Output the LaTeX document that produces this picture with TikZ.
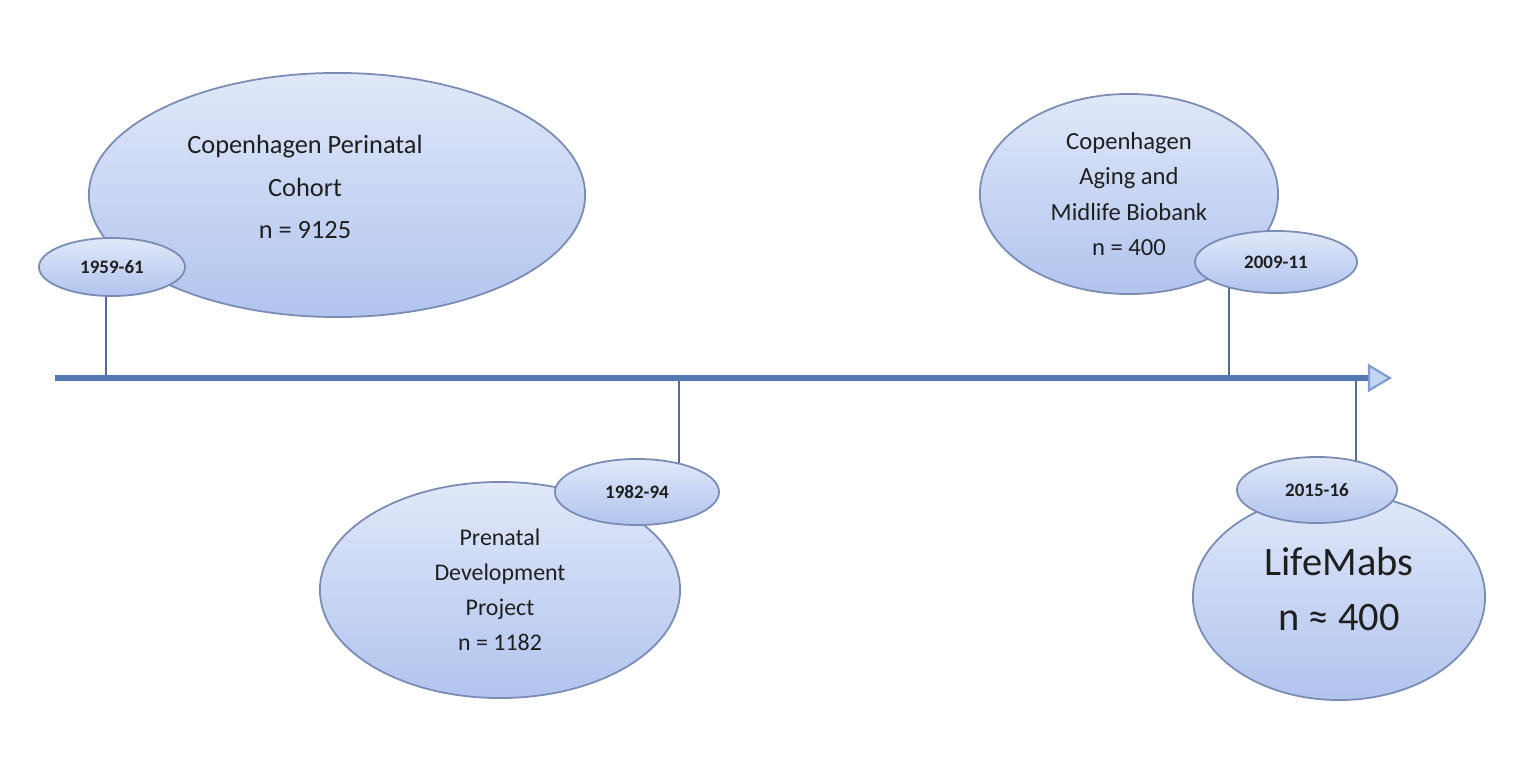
\documentclass[tikz,border=0pt]{standalone}
\usepackage{fontspec}
\setmainfont{Carlito}
\usepackage{tikz}
\usetikzlibrary{shapes.geometric, arrows.meta, calc, backgrounds}

\definecolor{axisblue}{HTML}{5478B4}
\definecolor{edgeblue}{HTML}{7A8BB4}
\definecolor{tickblue}{HTML}{566A98}
\definecolor{topblue}{HTML}{E0E8F9}
\definecolor{botblue}{HTML}{B1C4EE}
\definecolor{tipblue}{HTML}{C4D4F3}
\definecolor{tipedge}{HTML}{7F9CCC}

\begin{document}
\begin{tikzpicture}[
    x=0.01cm, y=-0.01cm,
    study/.style={ellipse, draw=edgeblue, line width=0.5pt, top color=topblue, bottom color=botblue, inner sep=0pt, align=center, text=black!88},
    year/.style={study, font=\fontsize{5.4}{6}\selectfont\bfseries},
    ticker/.style={draw=tickblue, line width=0.6pt},
    timeline/.style={draw=axisblue, line width=1.7pt, -{Triangle[length=0.24cm, width=0.28cm, line width=0.6pt, fill=tipblue, color=tipedge]}}
]
\useasboundingbox (0,0) rectangle (1526,770);

% axis
\coordinate (axisstart) at (55,378);
\coordinate (axisend) at (1392,378);

% studies
\node[study, minimum width=4.96cm, minimum height=2.44cm,
    label={[font=\fontsize{7.5}{12}\selectfont, align=center, text=black!88, xshift=-0.32cm, yshift=0.08cm]center:{Copenhagen Perinatal\\Cohort\\n = 9125}}]
    (cohort) at (337,195) {};
\node[study, minimum width=3.60cm, minimum height=2.16cm, font=\fontsize{6.8}{10}\selectfont] (prenatal) at (500,590)
    {Prenatal\\Development\\Project\\n = 1182};
\node[study, minimum width=2.98cm, minimum height=2.00cm, font=\fontsize{7}{10}\selectfont] (biobank) at (1129,194)
    {Copenhagen\\Aging and\\Midlife Biobank\\n = 400};
\node[study, minimum width=2.92cm, minimum height=2.06cm,
    label={[font=\fontsize{11.5}{15.5}\selectfont, align=center, text=black!88, yshift=0.08cm]center:{LifeMabs\\n ≈ 400}}]
    (lifemabs) at (1339,597) {};

% years
\node[year, minimum width=1.46cm, minimum height=0.58cm] (y1959) at (112,267) {1959-61};
\node[year, minimum width=1.64cm, minimum height=0.66cm] (y1982) at (637,492) {1982-94};
\node[year, minimum width=1.62cm, minimum height=0.62cm] (y2009) at (1276,262) {2009-11};
\node[year, minimum width=1.60cm, minimum height=0.66cm] (y2015) at (1317,490) {2015-16};

% ticks
\coordinate (t1959) at ($(y1959.center)+(-6,0)$);
\coordinate (t1982) at ($(y1982.center)+(42,0)$);
\coordinate (t2009) at ($(y2009.center)+(-47,0)$);
\coordinate (t2015) at ($(y2015.center)+(39,0)$);
\begin{scope}[on background layer]
\foreach \t in {t1959, t1982, t2009, t2015}
    \draw[ticker] (\t) -- (\t |- axisstart);
\end{scope}

\draw[timeline] (axisstart) -- (axisend);

\end{tikzpicture}
\end{document}
